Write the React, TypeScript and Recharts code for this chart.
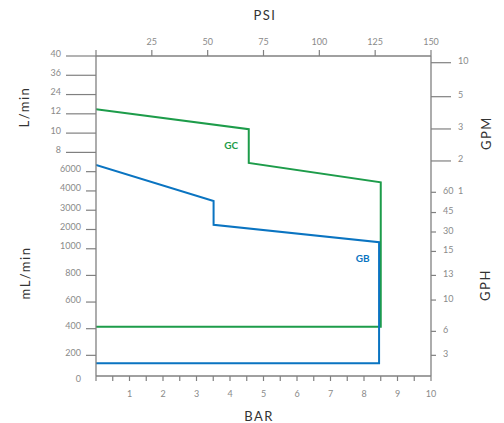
import { Label, Line, LineChart, XAxis, YAxis } from "recharts";

// left scale: mL/min up to 6000, then L/min (8..40)
const flowTicks = [0, 200, 400, 600, 800, 1000, 2000, 3000, 4000, 6000, 8000, 10000, 12000, 24000, 36000, 40000];

// right scale: where each GPH / GPM tick sits on the mL/min scale
const rightTickFlow = [200, 380, 615, 800, 980, 1870, 2880, 3930, 7110, 10430, 22670, 38610];
const rightTickGph = ["3", "6", "10", "13", "15", "30", "45", "60", "", "", "", ""];
const rightTickGpm = ["", "", "", "", "", "", "", "1", "2", "3", "5", "10"];

const barTicks = [0, 0.5, 1, 1.5, 2, 2.5, 3, 3.5, 4, 4.5, 5, 5.5, 6, 6.5, 7, 7.5, 8, 8.5, 9, 9.5, 10];
const psiTicks = [0, 25, 50, 75, 100, 125, 150];
const PSI_PER_BAR = 15; // the chart lines 150 psi up with 10 bar

// performance outlines (bar, mL/min)
const gcBar = [0, 4.56, 4.56, 8.5, 8.5, 0];
const gcFlow = [14800, 10400, 6900, 4900, 415, 415];
const gbBar = [0, 3.51, 3.51, 8.45, 8.45, 0];
const gbFlow = [6700, 3480, 2240, 1340, 140, 140];

const GREEN = "#1d9c4a";
const BLUE = "#0a74c1";
const AXIS = "#808080";
const TICK_TEXT = "#8a8a8a";
const FONT = "Lato, 'Open Sans', sans-serif";

const PLOT_LEFT = 96;
const PLOT_RIGHT = 431;
const PLOT_TOP = 56;
const PLOT_BOTTOM = 376;

// the mL/min part of the axis is spaced wider than the rest
const LOW_STEP = 1.382;
const slotOf = (i: number) => (i <= 5 ? i * LOW_STEP : 5 * LOW_STEP + (i - 5));

function flowToSlot(v: number) {
  for (let i = 1; i < flowTicks.length; i++) {
    if (v <= flowTicks[i]) {
      const t = (v - flowTicks[i - 1]) / (flowTicks[i] - flowTicks[i - 1]);
      return slotOf(i - 1) + t * (slotOf(i) - slotOf(i - 1));
    }
  }
  return slotOf(flowTicks.length - 1);
}

const SLOT_MAX = slotOf(flowTicks.length - 1);
const SLOT_MIN = 0.31;

const gcData = gcBar.map((b, i) => ({ bar: b, psi: b * PSI_PER_BAR, pos: flowToSlot(gcFlow[i]) }));
const gbData = gbBar.map((b, i) => ({ bar: b, pos: flowToSlot(gbFlow[i]) }));

const leftTickPos = flowTicks.map(flowToSlot);
const rightTickPos = rightTickFlow.map(flowToSlot);

const tickText = {
  fontSize: 9,
  fill: TICK_TEXT,
  fontFamily: FONT,
  dominantBaseline: "central" as const,
};

function LeftTick(props: any) {
  const { y, index } = props;
  const v = flowTicks[index];
  const litres = v >= 8000;
  const label = litres ? String(v / 1000) : String(v);
  const lineStart = litres ? 66 : 86;
  const textX = litres ? 61 : 81;
  return (
    <g>
      {v > 0 && (
        <line x1={lineStart} x2={PLOT_LEFT} y1={y} y2={y} stroke={AXIS} strokeWidth={1.2} />
      )}
      <text x={textX} y={y - 3} textAnchor="end" {...tickText}>
        {label}
      </text>
    </g>
  );
}

function RightTick(props: any) {
  const { y, index } = props;
  const gph = rightTickGph[index];
  const gpm = rightTickGpm[index];
  const len = gph ? 5 : 20;
  return (
    <g>
      <line x1={PLOT_RIGHT} x2={PLOT_RIGHT + len} y1={y} y2={y} stroke={AXIS} strokeWidth={1.2} />
      {gph && (
        <text x={443} y={y - 2} textAnchor="start" {...tickText}>
          {gph}
        </text>
      )}
      {gpm && (
        <text x={458} y={y - 2} textAnchor="start" {...tickText}>
          {gpm}
        </text>
      )}
    </g>
  );
}

function BarTick(props: any) {
  const { x, payload } = props;
  const v = payload.value as number;
  const showLabel = v > 0 && Number.isInteger(v);
  return (
    <g>
      <line x1={x} x2={x} y1={PLOT_BOTTOM} y2={PLOT_BOTTOM + 5} stroke={AXIS} strokeWidth={1.2} />
      {showLabel && (
        <text x={x} y={393} textAnchor="middle" {...tickText}>
          {v}
        </text>
      )}
    </g>
  );
}

function PsiTick(props: any) {
  const { x, payload } = props;
  const v = payload.value as number;
  return (
    <g>
      <line x1={x} x2={x} y1={PLOT_TOP} y2={PLOT_TOP - 6} stroke={AXIS} strokeWidth={1.2} />
      {v > 0 && (
        <text x={x} y={41} textAnchor="middle" {...tickText}>
          {v}
        </text>
      )}
    </g>
  );
}

function Title({ x, y, text, rotate }: { x: number; y: number; text: string; rotate?: boolean }) {
  return (
    <text
      x={x}
      y={y}
      textAnchor="middle"
      dominantBaseline="central"
      fontSize={13}
      letterSpacing={1.5}
      fill="#333"
      fontFamily={FONT}
      transform={rotate ? `rotate(-90 ${x} ${y})` : undefined}
    >
      {text}
    </text>
  );
}

function seriesLabel(text: string, color: string, at: number, dx: number, dy: number) {
  return (p: any) =>
    p.index === at ? (
      <text
        x={p.x + dx}
        y={p.y + dy}
        textAnchor="middle"
        dominantBaseline="central"
        fontSize={10}
        fontWeight={700}
        fill={color}
        fontFamily={FONT}
      >
        {text}
      </text>
    ) : null;
}

export default function App() {
  return (
    <div style={{ position: "absolute", left: 0, top: 0, background: "#fff" }}>
      <LineChart width={504} height={423} margin={{ top: 0, right: 0, bottom: 0, left: 0 }}>
        <XAxis
          xAxisId="bar"
          dataKey="bar"
          type="number"
          domain={[0, 10]}
          ticks={barTicks}
          interval={0}
          allowDataOverflow
          height={423 - PLOT_BOTTOM}
          axisLine={{ stroke: AXIS, strokeWidth: 1.3 }}
          tickLine={false}
          tick={BarTick}
        >
          <Label content={() => <Title x={259} y={416} text="BAR" />} />
        </XAxis>
        <XAxis
          xAxisId="psi"
          dataKey="psi"
          orientation="top"
          type="number"
          domain={[0, 150]}
          ticks={psiTicks}
          interval={0}
          allowDataOverflow
          height={PLOT_TOP}
          axisLine={{ stroke: AXIS, strokeWidth: 1.3 }}
          tickLine={false}
          tick={PsiTick}
        >
          <Label content={() => <Title x={265} y={15} text="PSI" />} />
        </XAxis>
        <YAxis
          yAxisId="flow"
          type="number"
          domain={[SLOT_MIN, SLOT_MAX]}
          ticks={leftTickPos}
          interval={0}
          allowDataOverflow
          width={PLOT_LEFT}
          axisLine={{ stroke: AXIS, strokeWidth: 1.3 }}
          tickLine={false}
          tick={LeftTick}
        >
          <Label content={() => <Title x={24} y={107} text="L/min" rotate />} />
          <Label content={() => <Title x={25} y={273} text="mL/min" rotate />} />
        </YAxis>
        <YAxis
          yAxisId="right"
          orientation="right"
          type="number"
          domain={[SLOT_MIN, SLOT_MAX]}
          ticks={rightTickPos}
          interval={0}
          allowDataOverflow
          width={504 - PLOT_RIGHT}
          axisLine={{ stroke: AXIS, strokeWidth: 1.3 }}
          tickLine={false}
          tick={RightTick}
        >
          <Label content={() => <Title x={486} y={133} text="GPM" rotate />} />
          <Label content={() => <Title x={485} y={285} text="GPH" rotate />} />
        </YAxis>
        {/* GC outline again on the psi axis, not stroked: it only gives that axis its ticks */}
        <Line
          data={gcData}
          xAxisId="psi"
          yAxisId="flow"
          dataKey="pos"
          type="linear"
          stroke="none"
          dot={false}
          activeDot={false}
          legendType="none"
          isAnimationActive={false}
        />
        <Line
          data={gcData}
          xAxisId="bar"
          yAxisId="flow"
          dataKey="pos"
          type="linear"
          stroke={GREEN}
          strokeWidth={2}
          strokeLinejoin="miter"
          dot={false}
          isAnimationActive={false}
          label={seriesLabel("GC", GREEN, 1, -17.6, 15.3)}
        />
        <Line
          data={gbData}
          xAxisId="bar"
          yAxisId="flow"
          dataKey="pos"
          type="linear"
          stroke={BLUE}
          strokeWidth={2}
          strokeLinejoin="miter"
          dot={false}
          isAnimationActive={false}
          label={seriesLabel("GB", BLUE, 3, -16.3, 16)}
        />
      </LineChart>
    </div>
  );
}
